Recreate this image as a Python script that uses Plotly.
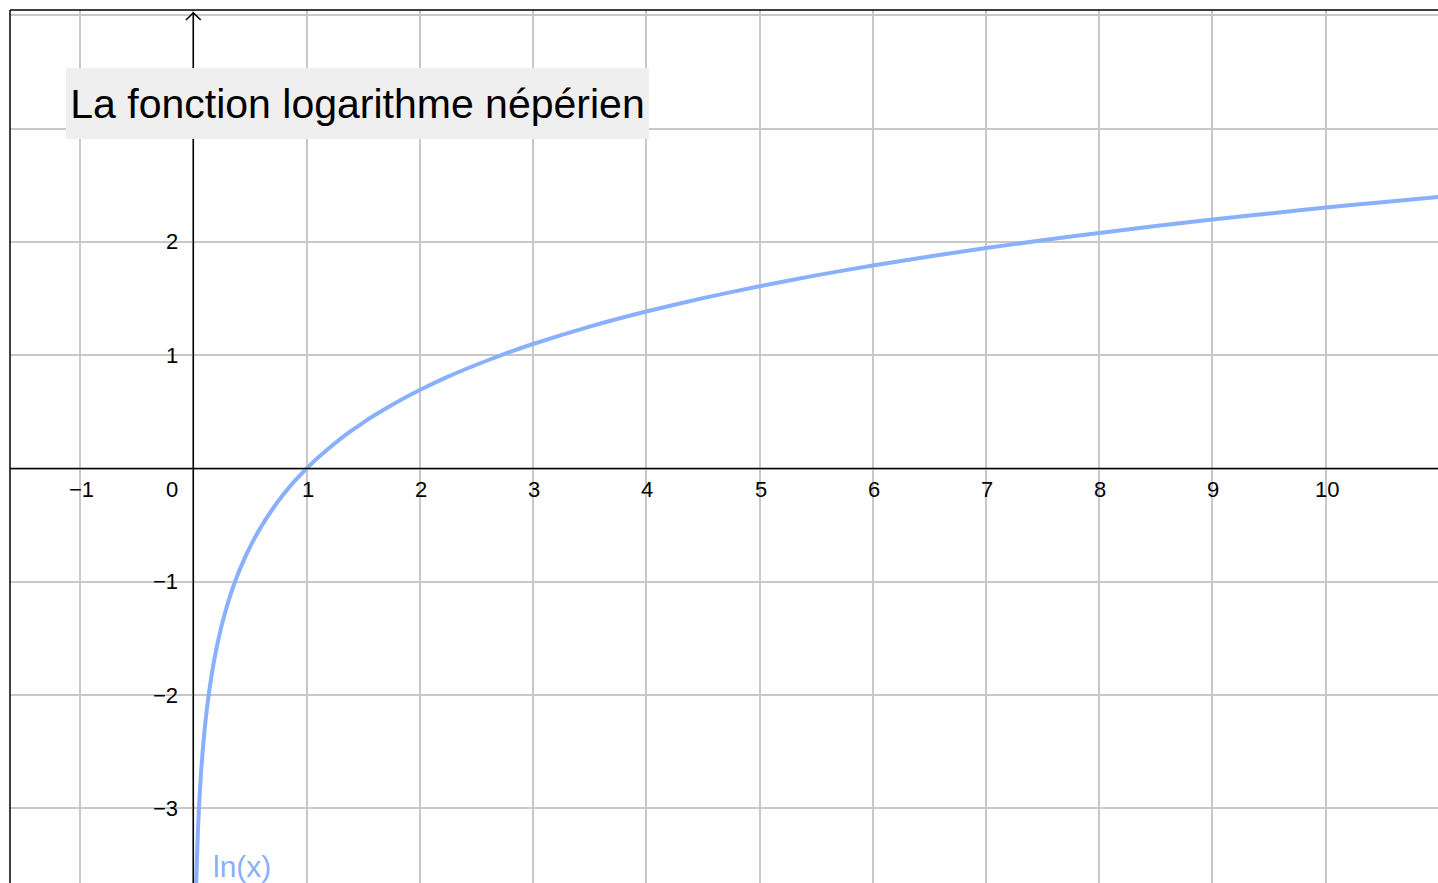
import plotly.graph_objects as go

# ---- data (the graph of ln(x)) ----
curve_x = [0.025, 0.03, 0.035, 0.04, 0.045, 0.05, 0.055, 0.06, 0.07, 0.08, 0.09, 0.1,
           0.11, 0.12, 0.135, 0.15, 0.175, 0.2, 0.225, 0.25, 0.3, 0.35, 0.4, 0.45, 0.5,
           0.6, 0.7, 0.8, 0.9, 1.0, 1.1, 1.2, 1.3, 1.4, 1.5, 1.6, 1.8, 2.0, 2.25, 2.5,
           2.75, 3.0, 3.5, 4.0, 4.5, 5.0, 5.5, 6.0, 6.5, 7.0, 7.5, 8.0, 8.5, 9.0, 9.5,
           10.0, 10.5, 11.0]
curve_y = [-3.689, -3.507, -3.352, -3.219, -3.101, -2.996, -2.900, -2.813, -2.659,
           -2.526, -2.408, -2.303, -2.207, -2.120, -2.002, -1.897, -1.743, -1.609,
           -1.492, -1.386, -1.204, -1.050, -0.916, -0.799, -0.693, -0.511, -0.357,
           -0.223, -0.105, 0.0, 0.095, 0.182, 0.262, 0.336, 0.405, 0.470, 0.588, 0.693,
           0.811, 0.916, 1.012, 1.099, 1.253, 1.386, 1.504, 1.609, 1.705, 1.792, 1.872,
           1.946, 2.015, 2.079, 2.140, 2.197, 2.251, 2.303, 2.351, 2.398]
x_ticks = [-1, 0, 1, 2, 3, 4, 5, 6, 7, 8, 9, 10]
x_tick_labels = ["\u22121", "0", "1", "2", "3", "4", "5", "6", "7", "8", "9", "10"]
y_ticks = [-3, -2, -1, 1, 2]
y_tick_labels = ["\u22123", "\u22122", "\u22121", "1", "2"]
title_text = "La fonction logarithme népérien"
curve_label = "ln(x)"

CURVE_COLOR = "rgb(137,176,252)"
FONT = "Liberation Sans, Arial, sans-serif"
XR = [-1.619, 10.992]
YR = [-3.658, 4.047]

fig = go.Figure()
fig.add_trace(go.Scatter(x=curve_x, y=curve_y, mode="lines",
                         line=dict(color=CURVE_COLOR, width=4, shape="spline", smoothing=0.5),
                         hoverinfo="skip", showlegend=False))

fig.update_layout(
    width=1438, height=883,
    margin=dict(l=10, r=0, t=10, b=0),
    paper_bgcolor="white", plot_bgcolor="white",
    showlegend=False,
    xaxis=dict(range=XR, dtick=1, tick0=0, showgrid=True, gridcolor="#c8c8c8", gridwidth=2,
               zeroline=False, showticklabels=False, ticks="", showline=False, fixedrange=True),
    yaxis=dict(range=YR, dtick=1, tick0=0, showgrid=True, gridcolor="#c8c8c8", gridwidth=2,
               zeroline=False, showticklabels=False, ticks="", showline=False, fixedrange=True),
)

shapes = []
# frame (top and left)
shapes.append(dict(type="line", xref="paper", yref="paper", x0=0, x1=1, y0=1, y1=1,
                   line=dict(color="black", width=1.5)))
shapes.append(dict(type="line", xref="paper", yref="paper", x0=0, x1=0, y0=0, y1=1,
                   line=dict(color="black", width=1.5)))
# axes
shapes.append(dict(type="line", xref="x", yref="y", x0=XR[0], x1=11.05, y0=0, y1=0,
                   line=dict(color="black", width=1.5)))
shapes.append(dict(type="line", xref="x", yref="y", x0=0, x1=0, y0=YR[0], y1=4.023,
                   line=dict(color="black", width=1.5)))
# arrow heads
a = 0.065
shapes.append(dict(type="path", xref="x", yref="y",
                   path=f"M {-a} {4.023 - a} L 0 4.023 L {a} {4.023 - a}",
                   line=dict(color="black", width=1.5)))
tip = 11.06
shapes.append(dict(type="path", xref="x", yref="y",
                   path=f"M {tip - a} {a} L {tip} 0 L {tip - a} {-a}",
                   line=dict(color="black", width=1.5)))
fig.update_layout(shapes=shapes)

annotations = []
for v, t in zip(x_ticks, x_tick_labels):
    if v == 0:
        annotations.append(dict(x=0, y=0, xref="x", yref="y", text=t, showarrow=False,
                                xanchor="right", yanchor="middle", xshift=-13, yshift=-21,
                                font=dict(family=FONT, size=22, color="black")))
    else:
        annotations.append(dict(x=v, y=0, xref="x", yref="y", text=t, showarrow=False,
                                xanchor="center", yanchor="middle", xshift=1, yshift=-21,
                                font=dict(family=FONT, size=22, color="black")))
for v, t in zip(y_ticks, y_tick_labels):
    annotations.append(dict(x=0, y=v, xref="x", yref="y", text=t, showarrow=False,
                            xanchor="right", yanchor="middle", xshift=-13, yshift=0,
                            font=dict(family=FONT, size=22, color="black")))
annotations.append(dict(x=0.155, y=-3.508, xref="x", yref="y", text=curve_label, showarrow=False,
                        xanchor="left", yanchor="middle",
                        font=dict(family=FONT, size=30, color=CURVE_COLOR)))
annotations.append(dict(x=(66 - 10) / 1428, y=(883 - 68) / 873, xref="paper", yref="paper",
                        text=title_text, showarrow=False, xanchor="left", yanchor="top",
                        width=583, height=71, borderpad=0, borderwidth=0,
                        bgcolor="#efefef", align="center", valign="middle",
                        font=dict(family=FONT, size=41, color="black")))
fig.update_layout(annotations=annotations)

fig.write_html("out.html", config={"displayModeBar": False, "responsive": False},
               post_script="document.body.style.margin='0';document.body.style.overflow='hidden';")
